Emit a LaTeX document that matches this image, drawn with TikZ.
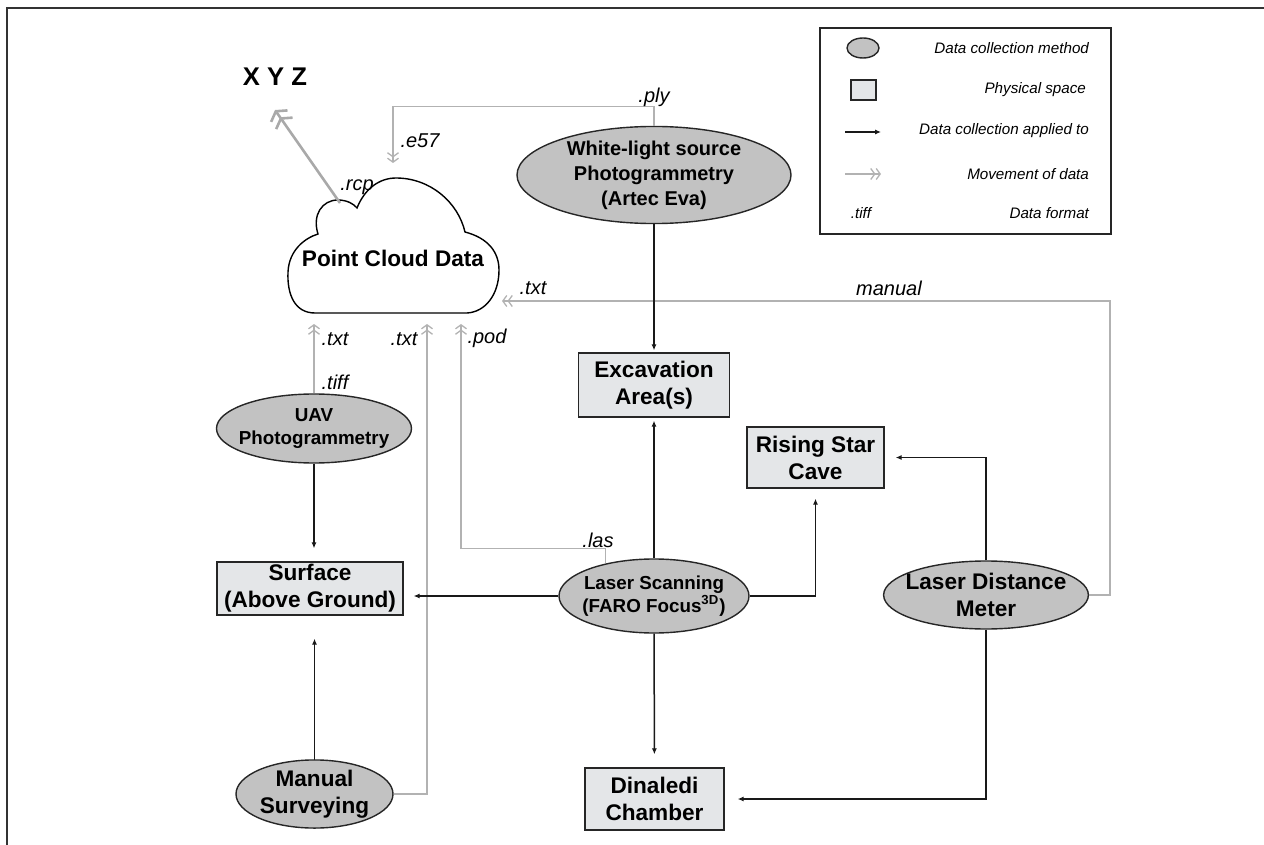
\documentclass[tikz,border=0pt]{standalone}
\usepackage{fontspec}
\setmainfont{Liberation Sans}
\usetikzlibrary{shapes.geometric,arrows.meta}
\definecolor{methodgray}{RGB}{194,194,194}
\definecolor{sitegray}{RGB}{228,230,232}
\definecolor{datagray}{RGB}{178,178,178}

\begin{document}
\begin{tikzpicture}[x=0.5pt,y=-0.5pt,
  method/.style={ellipse,draw=black!85,line width=0.7pt,fill=methodgray,inner xsep=-4pt,inner ysep=0pt,align=center,font=\bfseries\fontsize{11.3}{13.5}\selectfont},
  site/.style={rectangle,draw=black!85,line width=0.7pt,fill=sitegray,inner sep=0pt,align=center,font=\bfseries\fontsize{11.3}{13.5}\selectfont},
  apply/.style={draw=black!90,line width=0.75pt,-{Latex[length=3pt,width=2.6pt]}},
  data/.style={draw=datagray,line width=0.65pt,-{Straight Barb[length=2pt,width=5.5pt]Straight Barb[length=2pt,width=5.5pt]}},
  fmt/.style={font=\itshape\fontsize{10}{12}\selectfont},
  legtext/.style={anchor=east,font=\itshape\fontsize{7.6}{9}\selectfont}]
  \useasboundingbox (0,0) rectangle (1264,845);
  \draw[line width=1pt,black!80] (7,845) -- (7,8) -- (1264,8);

  % point cloud
  \draw[line width=0.7pt] (315,313) .. controls (295,313) and (287,295) .. (288,272)
    .. controls (289,250) and (305,238) .. (318,234)
    .. controls (312,215) and (322,200) .. (338,200)
    .. controls (347,200) and (354,204) .. (357,208)
    .. controls (365,188) and (380,178) .. (396,178)
    .. controls (430,178) and (458,202) .. (465,232)
    .. controls (488,238) and (499,252) .. (499,270)
    .. controls (499,295) and (485,312) .. (467,313) -- cycle;
  \node[font=\bfseries\fontsize{11.3}{13.5}\selectfont] (pcd) at (393,258) {Point Cloud Data};
  \node[font=\bfseries\fontsize{12.8}{15}\selectfont] (xyz) at (275,77) {X Y Z};

  \node[method,minimum width=137pt,minimum height=47.5pt,font=\bfseries\fontsize{10}{12.5}\selectfont] (wl) at (654,175) {White-light source\\Photogrammetry\\(Artec Eva)};
  \node[site,minimum width=75.5pt,minimum height=32pt] (exc) at (654,385) {Excavation\\Area(s)};
  \node[site,minimum width=68.5pt,minimum height=30.5pt] (rsc) at (815.5,457.5) {Rising Star\\Cave};
  \node[method,minimum width=95pt,minimum height=37pt,font=\bfseries\fontsize{9.4}{11.5}\selectfont] (ls) at (654,596) {Laser Scanning\\(FARO Focus\textsuperscript{3D})};
  \node[site,minimum width=93pt,minimum height=26.5pt] (surf) at (310,588.5) {Surface\\(Above Ground)};
  \node[method,minimum width=97.5pt,minimum height=34.5pt,font=\bfseries\fontsize{9.4}{11.5}\selectfont] (uav) at (314,428.5) {UAV\\Photogrammetry};
  \node[method,minimum width=78.5pt,minimum height=34pt] (ms) at (314.5,794) {Manual\\Surveying};
  \node[method,minimum width=102pt,minimum height=34pt] (ldm) at (986,595) {Laser Distance\\Meter};
  \node[site,minimum width=69.5pt,minimum height=31pt] (din) at (654.5,799) {Dinaledi\\Chamber};

  \coordinate (rcp) at (340,203);
  \coordinate (xyztip) at (275,110);
  \coordinate (e57) at (393,163);
  \coordinate (mantip) at (502,301);
  \coordinate (podtip) at (461,324);
  \coordinate (uavtip) at (314,324);
  \coordinate (mstip) at (427,324);

  \draw[draw=datagray!95!black,line width=1.3pt,-{Straight Barb[length=3pt,width=10pt]Straight Barb[length=3pt,width=10pt]}] (rcp) -- (xyztip);
  \draw[data] (wl.north) -- ++(0,-19) -| (e57);
  \draw[data] (ldm.east) -- ++(21,0) |- (mantip);
  \draw[data] (ls.146) -- ++(0,-15) -| (podtip);
  \draw[data] (uav.north) -- (uavtip);
  \draw[data] (ms.east) -| (mstip);

  \draw[apply,shorten >=1pt] (wl) -- (exc);
  \draw[apply,shorten >=1.5pt] (ls) -- (exc);
  \draw[apply,shorten >=5pt] (ls.west) -- (ls.west -| surf.east);
  \draw[apply,shorten >=5pt] (ls.east) -| (rsc.south);
  \draw[apply,shorten >=6.5pt] (ls) -- (din);
  \draw[apply,shorten >=5.5pt] (ldm.north) |- (rsc.east);
  \draw[apply,shorten >=6.5pt] (ldm.south) |- (din.east);
  \draw[apply,shorten >=6.5pt] (uav.south) -- (uav.south |- surf.north);
  \draw[apply,shorten >=11.5pt] (ms.north) -- (ms.north |- surf.south);

  \node[fmt] (frcp) at (357,187) {.rcp};
  \node[fmt] (fe57) at (420,141) {.e57};
  \node[fmt] (fply) at (654,97) {.ply};
  \node[fmt] (ftxt1) at (533,288) {.txt};
  \node[fmt] (fman) at (889,288) {manual};
  \node[fmt] (ftxt2) at (335,339) {.txt};
  \node[fmt] (ftiff) at (335,382) {.tiff};
  \node[fmt] (ftxt3) at (404,339) {.txt};
  \node[fmt] (fpod) at (487,338) {.pod};
  \node[fmt] (flas) at (598,540) {.las};

  % legend
  \draw[line width=0.8pt,black!85] (820,28) rectangle (1111,234);
  \node[method,minimum width=16pt,minimum height=10pt] (lgm) at (863,48) {};
  \node[site,minimum width=12.5pt,minimum height=10pt] (lgs) at (863.5,90) {};
  \coordinate (lga1) at (845,132);
  \coordinate (lga2) at (881,132);
  \coordinate (lgd1) at (845,174);
  \coordinate (lgd2) at (881,174);
  \draw[apply] (lga1) -- (lga2);
  \draw[data] (lgd1) -- (lgd2);
  \node[font=\itshape\fontsize{7.6}{9}\selectfont] (lgf) at (861,213) {.tiff};
  \node[legtext] (lt1) at (1096,48) {Data collection method};
  \node[legtext] (lt2) at (1093,90) {Physical space};
  \node[legtext] (lt3) at (1096,131) {Data collection applied to};
  \node[legtext] (lt4) at (1096,174) {Movement of data};
  \node[legtext] (lt5) at (1096,213) {Data format};
\end{tikzpicture}
\end{document}
